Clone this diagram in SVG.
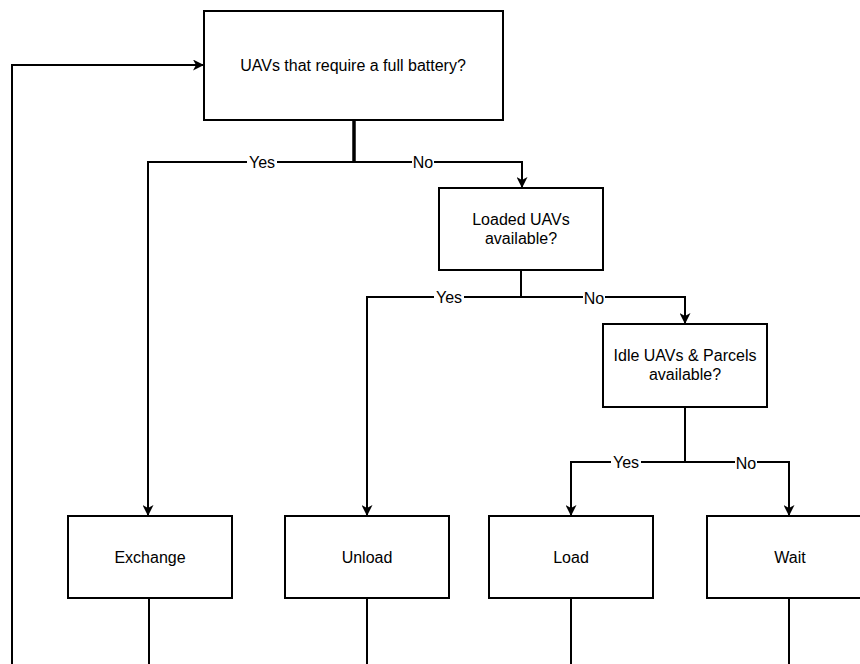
<svg xmlns="http://www.w3.org/2000/svg" width="860" height="664" viewBox="0 0 860 664">
  <style>
    .box { fill: #ffffff; stroke: #000000; stroke-width: 2; }
    .txt { font-family: "Liberation Sans", Arial, sans-serif; font-size: 16px; fill: #000000; text-anchor: middle; dominant-baseline: central; }
    .edge { fill: none; stroke: #000000; stroke-width: 2; }
    .lblbg { fill: #ffffff; }
  </style>
  <defs>
    <marker id="arrow" viewBox="0 0 11 11" refX="11" refY="5.5" markerWidth="11" markerHeight="11" markerUnits="userSpaceOnUse" orient="auto">
      <path d="M0,0 L11,5.5 L0,11 L3,5.5 Z" fill="#000000"/>
    </marker>
  </defs>
  <rect width="860" height="664" fill="#ffffff"/>

  <!-- connectors -->
  <g id="connectors">
    <path class="edge" d="M12,664 V65 H204" marker-end="url(#arrow)"/>
    <path class="edge" d="M354,120 V162" style="stroke-width:3.5"/>
    <path class="edge" d="M354,162 H148 V516" marker-end="url(#arrow)"/>
    <path class="edge" d="M354,162 H522 V188" marker-end="url(#arrow)"/>
    <path class="edge" d="M521,270 V297"/>
    <path class="edge" d="M521,297 H367 V516" marker-end="url(#arrow)"/>
    <path class="edge" d="M521,297 H685 V324" marker-end="url(#arrow)"/>
    <path class="edge" d="M685,407 V462"/>
    <path class="edge" d="M685,462 H571 V516" marker-end="url(#arrow)"/>
    <path class="edge" d="M685,462 H789 V516" marker-end="url(#arrow)"/>
    <path class="edge" d="M149,598 V664"/>
    <path class="edge" d="M367,598 V664"/>
    <path class="edge" d="M571,598 V664"/>
    <path class="edge" d="M789,598 V664"/>

    <!-- edge labels -->
    <rect class="lblbg" x="247" y="153" width="30" height="18"/>
    <text class="txt" x="262" y="162">Yes</text>
    <rect class="lblbg" x="412" y="153" width="22" height="18"/>
    <text class="txt" x="423" y="162">No</text>
    <rect class="lblbg" x="434" y="288" width="30" height="18"/>
    <text class="txt" x="449" y="297">Yes</text>
    <rect class="lblbg" x="583" y="289" width="22" height="18"/>
    <text class="txt" x="594" y="298">No</text>
    <rect class="lblbg" x="611" y="453" width="30" height="18"/>
    <text class="txt" x="626" y="462">Yes</text>
    <rect class="lblbg" x="735" y="454" width="22" height="18"/>
    <text class="txt" x="746" y="463">No</text>
  </g>

  <!-- decision nodes -->
  <g id="q-battery">
    <rect class="box" x="204" y="11" width="299" height="109"/>
    <text class="txt" x="353" y="65">UAVs that require a full battery?</text>
  </g>
  <g id="q-loaded">
    <rect class="box" x="439" y="188" width="164" height="82"/>
    <text class="txt" x="521" y="219">Loaded UAVs</text>
    <text class="txt" x="521" y="238">available?</text>
  </g>
  <g id="q-idle">
    <rect class="box" x="603" y="324" width="164" height="83"/>
    <text class="txt" x="685" y="355">Idle UAVs &amp; Parcels</text>
    <text class="txt" x="685" y="374">available?</text>
  </g>

  <!-- action nodes -->
  <g id="exchange">
    <rect class="box" x="68" y="516" width="164" height="82"/>
    <text class="txt" x="150" y="557">Exchange</text>
  </g>
  <g id="unload">
    <rect class="box" x="285" y="516" width="164" height="82"/>
    <text class="txt" x="367" y="557">Unload</text>
  </g>
  <g id="load">
    <rect class="box" x="489" y="516" width="164" height="82"/>
    <text class="txt" x="571" y="557">Load</text>
  </g>
  <g id="wait">
    <rect class="box" x="707" y="516" width="164" height="82"/>
    <text class="txt" x="790" y="557">Wait</text>
  </g>
</svg>
